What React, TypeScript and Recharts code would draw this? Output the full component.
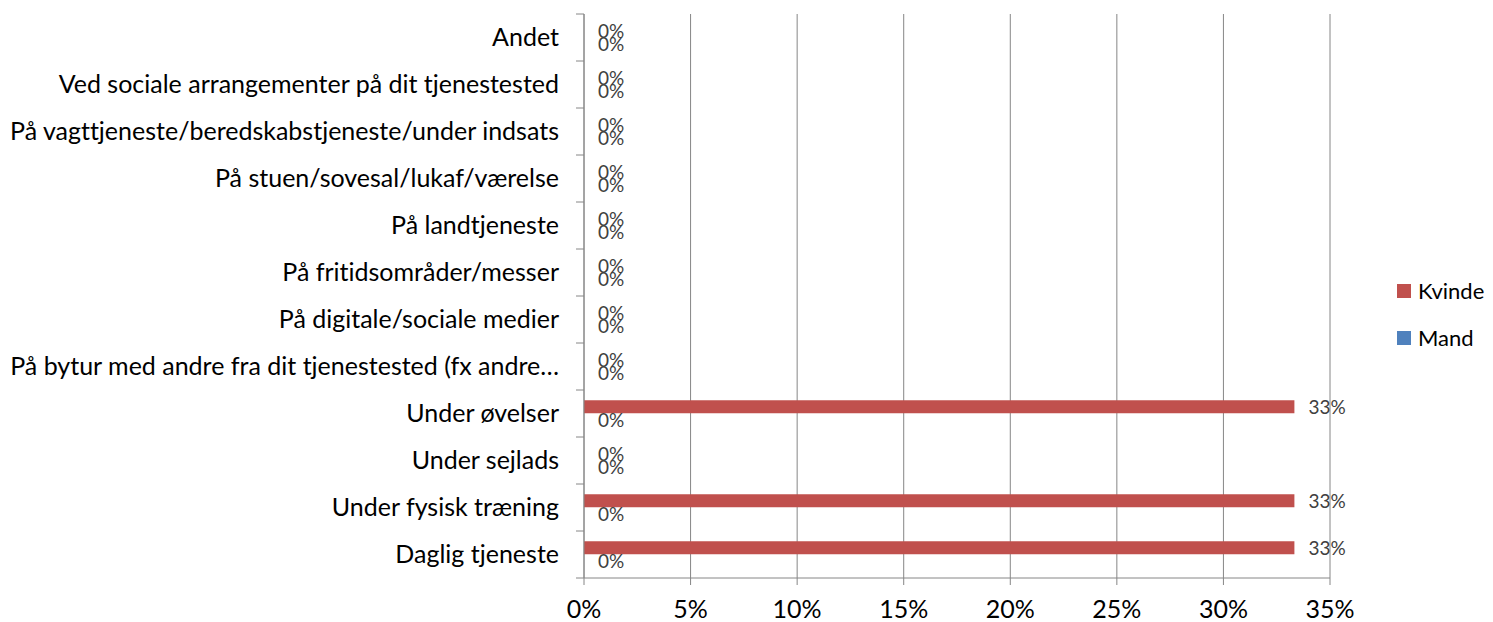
import { Bar, BarChart, CartesianGrid, LabelList, Legend, XAxis, YAxis } from 'recharts';

const categories = [
  'Andet',
  'Ved sociale arrangementer på dit tjenestested',
  'På vagttjeneste/beredskabstjeneste/under indsats',
  'På stuen/sovesal/lukaf/værelse',
  'På landtjeneste',
  'På fritidsområder/messer',
  'På digitale/sociale medier',
  'På bytur med andre fra dit tjenestested (fx andre…',
  'Under øvelser',
  'Under sejlads',
  'Under fysisk træning',
  'Daglig tjeneste',
];
const kvinde = [0, 0, 0, 0, 0, 0, 0, 0, 33.33, 0, 33.33, 33.33];
const mand = [0, 0, 0, 0, 0, 0, 0, 0, 0, 0, 0, 0];
const xTicks = [0, 5, 10, 15, 20, 25, 30, 35];

const WIDTH = 1493;
const HEIGHT = 622;
const TOP = 14;
const X_AXIS_H = 44;
const AXIS_W = 584;
const RIGHT = 163;
const BAND = (HEIGHT - TOP - X_AXIS_H) / categories.length;
const GRAY = '#868686';
const FONT = 'Lato, "Open Sans", sans-serif';

const data = categories.map((c, i) => ({ cat: c, kvinde: kvinde[i], mand: mand[i] }));

const pct = (v: any) => `${Math.round(Number(v))}%`;

function CatTick(props: any) {
  const { x, y, payload, index } = props;
  return (
    <g>
      {index === 0 && <line x1={x - 8} x2={x} y1={y - BAND / 2} y2={y - BAND / 2} stroke={GRAY} />}
      <line x1={x - 8} x2={x} y1={y + BAND / 2} y2={y + BAND / 2} stroke={GRAY} />
      <text
        x={x - 25}
        y={y}
        dy={8}
        textAnchor="end"
        fontSize={25}
        fill="#000"
        fontFamily={FONT}
        style={{ fontVariantLigatures: 'none' }}
      >
        {payload.value}
      </text>
    </g>
  );
}

function LegendBox() {
  const items = [
    { name: 'Kvinde', color: '#C0504D' },
    { name: 'Mand', color: '#4F81BD' },
  ];
  return (
    <div style={{ fontFamily: FONT, fontSize: 22, color: '#000' }}>
      {items.map((it) => (
        <div key={it.name} style={{ display: 'flex', alignItems: 'center', height: 47 }}>
          <span style={{ width: 14, height: 14, background: it.color, marginRight: 7, display: 'inline-block' }} />
          <span>{it.name}</span>
        </div>
      ))}
    </div>
  );
}

const labelStyle = { fontSize: 19, fill: '#404040', fontFamily: FONT };

export default function App() {
  return (
    <div style={{ position: 'absolute', left: 0, top: 0, background: '#fff' }}>
      <BarChart
        width={WIDTH}
        height={HEIGHT}
        data={data}
        layout="vertical"
        margin={{ top: TOP, right: RIGHT, bottom: 0, left: 0 }}
        barCategoryGap="22%"
        barGap={0}
      >
        <CartesianGrid horizontal={false} stroke={GRAY} />
        <XAxis
          type="number"
          domain={[0, 35]}
          ticks={xTicks}
          tickFormatter={(v) => `${v}%`}
          stroke={GRAY}
          height={X_AXIS_H}
          tickSize={7}
          tickMargin={14}
          tick={{ fontSize: 25, fill: '#000', fontFamily: FONT, dy: 1 }}
          interval={0}
        />
        <YAxis
          type="category"
          dataKey="cat"
          width={AXIS_W}
          stroke={GRAY}
          tickLine={false}
          tickSize={0}
          tickMargin={0}
          tick={<CatTick />}
          interval={0}
        />
        <Legend
          layout="horizontal"
          verticalAlign="middle"
          align="center"
          content={<LegendBox />}
          wrapperStyle={{ left: 1397, top: 267, width: 100 }}
        />
        <Bar dataKey="kvinde" name="Kvinde" fill="#C0504D" minPointSize={0.01} isAnimationActive={false}>
          <LabelList dataKey="kvinde" position="right" offset={14} formatter={pct} style={labelStyle} />
        </Bar>
        <Bar dataKey="mand" name="Mand" fill="#4F81BD" minPointSize={0.01} isAnimationActive={false}>
          <LabelList dataKey="mand" position="right" offset={14} formatter={pct} style={labelStyle} />
        </Bar>
      </BarChart>
    </div>
  );
}
